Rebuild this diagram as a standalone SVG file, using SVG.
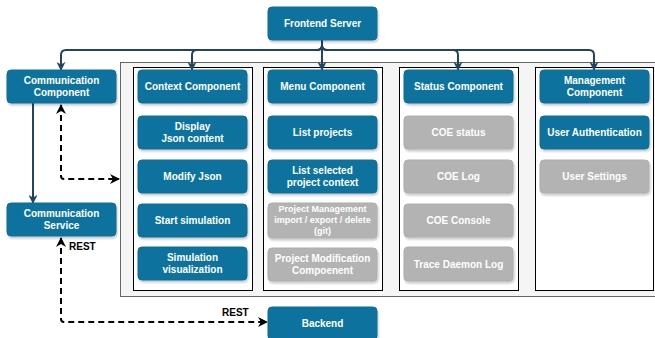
<svg xmlns="http://www.w3.org/2000/svg" width="655" height="338" viewBox="0 0 655 338">
  <style>
    .node rect { fill: #10739e; stroke: #0f6d96; stroke-width: 1; filter: url(#shadow); }
    .node.off rect { fill: #b3b3b3; stroke: #aeaeae; }
    .node text { fill: #ffffff; font-family: "Liberation Sans", Arial, sans-serif; font-weight: bold; font-size: 10px; text-anchor: middle; }
    .node.small text { font-size: 9px; }
    .col { fill: #ffffff; stroke: #000000; stroke-width: 1; }
    .frame { fill: #f5f5f5; stroke: #666666; stroke-width: 1; }
    .link { fill: none; stroke: #23445d; stroke-width: 2; }
    .dash { fill: none; stroke: #000000; stroke-width: 2; stroke-dasharray: 6 4; }
    .lbl { fill: #000000; font-family: "Liberation Sans", Arial, sans-serif; font-weight: bold; font-size: 10px; }
  </style>
  <defs>
    <filter id="shadow" x="-10%" y="-10%" width="130%" height="140%">
      <feDropShadow dx="1" dy="2" stdDeviation="1" flood-color="#000000" flood-opacity="0.22"/>
    </filter>
    <marker id="blk" viewBox="0 0 10 10" refX="9" refY="5" markerWidth="9" markerHeight="9" orient="auto" markerUnits="userSpaceOnUse">
      <path d="M0,0 L10,5 L0,10 L3,5 z" fill="#23445d"/>
    </marker>
    <marker id="open" viewBox="0 0 10 10" refX="9" refY="5" markerWidth="11" markerHeight="10" orient="auto-start-reverse" markerUnits="userSpaceOnUse">
      <path d="M0,0 L10,5 L0,10 L3,5 z" fill="#000000"/>
    </marker>
  </defs>

  <!-- frontend container and columns -->
  <rect class="frame" x="120.5" y="62.5" width="545" height="234"/>
  <rect class="col" x="133.5" y="67.5" width="119" height="223"/>
  <rect class="col" x="263.5" y="67.5" width="119" height="223"/>
  <rect class="col" x="399.5" y="67.5" width="119" height="223"/>
  <rect class="col" x="535.5" y="67.5" width="118" height="223"/>

  <!-- connectors -->
  <g id="connectors">
    <path class="link" d="M322,40 V45 Q322,50 317,50 H66 Q61,50 61,55 V70" marker-end="url(#blk)"/>
    <path class="link" d="M322,40 V45 Q322,50 317,50 H197 Q192,50 192,55 V70" marker-end="url(#blk)"/>
    <path class="link" d="M322,40 V70" marker-end="url(#blk)"/>
    <path class="link" d="M322,40 V45 Q322,50 327,50 H453 Q458,50 458,55 V70" marker-end="url(#blk)"/>
    <path class="link" d="M322,40 V45 Q322,50 327,50 H589 Q594,50 594,55 V70" marker-end="url(#blk)"/>
    <path class="link" d="M33,103 V203" marker-end="url(#blk)"/>
    <path class="dash" d="M61,105 V176 Q61,179 64,179 H119" marker-start="url(#open)" marker-end="url(#open)"/>
    <path class="dash" d="M61,238 V319 Q61,322 64,322 H267" marker-start="url(#open)" marker-end="url(#open)"/>
    <text class="lbl" x="69" y="250">REST</text>
    <text class="lbl" x="222" y="316">REST</text>
  </g>

  <!-- servers -->
  <g id="frontend-server" class="node"><rect x="268" y="7" width="109" height="33" rx="4"/><text x="322.5" y="27">Frontend Server</text></g>
  <g id="backend" class="node"><rect x="268" y="307" width="109" height="33" rx="4"/><text x="322.5" y="327">Backend</text></g>

  <!-- communication -->
  <g id="communication-component" class="node"><rect x="7" y="70" width="109" height="33" rx="4"/><text x="61.5" y="84">Communication</text><text x="61.5" y="96">Component</text></g>
  <g id="communication-service" class="node"><rect x="7" y="203" width="109" height="33" rx="4"/><text x="61.5" y="217">Communication</text><text x="61.5" y="229">Service</text></g>

  <!-- context column -->
  <g id="context-component" class="node"><rect x="138" y="70" width="109" height="33" rx="4"/><text x="192.5" y="90">Context Component</text></g>
  <g id="display-json" class="node"><rect x="138" y="116" width="109" height="33" rx="4"/><text x="192.5" y="130">Display</text><text x="192.5" y="142">Json content</text></g>
  <g id="modify-json" class="node"><rect x="138" y="160" width="109" height="33" rx="4"/><text x="192.5" y="180">Modify Json</text></g>
  <g id="start-simulation" class="node"><rect x="138" y="204" width="109" height="33" rx="4"/><text x="192.5" y="224">Start simulation</text></g>
  <g id="simulation-visualization" class="node"><rect x="138" y="247" width="109" height="33" rx="4"/><text x="192.5" y="261">Simulation</text><text x="192.5" y="273">visualization</text></g>

  <!-- menu column -->
  <g id="menu-component" class="node"><rect x="268" y="70" width="109" height="33" rx="4"/><text x="322.5" y="90">Menu Component</text></g>
  <g id="list-projects" class="node"><rect x="268" y="116" width="109" height="33" rx="4"/><text x="322.5" y="136">List projects</text></g>
  <g id="list-selected-context" class="node"><rect x="268" y="160" width="109" height="33" rx="4"/><text x="322.5" y="174">List selected</text><text x="322.5" y="186">project context</text></g>
  <g id="project-management" class="node off small"><rect x="268" y="203" width="109" height="35" rx="4"/><text x="322.5" y="212">Project Management</text><text x="322.5" y="223">import / export / delete</text><text x="322.5" y="234">(git)</text></g>
  <g id="project-modification" class="node off"><rect x="268" y="248" width="109" height="33" rx="4"/><text x="322.5" y="262">Project Modification</text><text x="322.5" y="274">Compoenent</text></g>

  <!-- status column -->
  <g id="status-component" class="node"><rect x="404" y="70" width="109" height="33" rx="4"/><text x="458.5" y="90">Status Component</text></g>
  <g id="coe-status" class="node off"><rect x="404" y="116" width="109" height="33" rx="4"/><text x="458.5" y="136">COE status</text></g>
  <g id="coe-log" class="node off"><rect x="404" y="160" width="109" height="33" rx="4"/><text x="458.5" y="180">COE Log</text></g>
  <g id="coe-console" class="node off"><rect x="404" y="204" width="109" height="33" rx="4"/><text x="458.5" y="224">COE Console</text></g>
  <g id="trace-daemon-log" class="node off"><rect x="404" y="247" width="109" height="34" rx="4"/><text x="458.5" y="268">Trace Daemon Log</text></g>

  <!-- management column -->
  <g id="management-component" class="node"><rect x="540" y="70" width="109" height="33" rx="4"/><text x="594.5" y="84">Management</text><text x="594.5" y="96">Component</text></g>
  <g id="user-authentication" class="node"><rect x="540" y="116" width="109" height="33" rx="4"/><text x="594.5" y="136">User Authentication</text></g>
  <g id="user-settings" class="node off"><rect x="540" y="160" width="109" height="33" rx="4"/><text x="594.5" y="180">User Settings</text></g>
</svg>
